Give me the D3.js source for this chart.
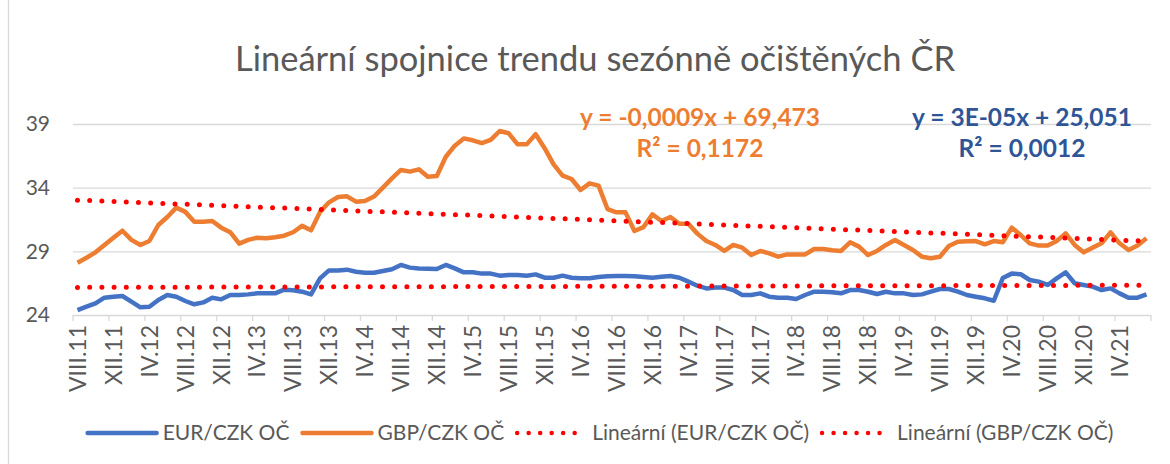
<!DOCTYPE html>
<html lang="cs">
<head>
<meta charset="UTF-8">
<script src="https://d3js.org/d3.v7.min.js"></script>
<style>
  body { margin: 0; background: #fff; }
  text { font-family: Lato, "Open Sans", sans-serif; fill: #595959; }
  .grid line { stroke: #d9d9d9; stroke-width: 1.3; }
  .eq { font-weight: bold; font-size: 24.5px; }
</style>
</head>
<body>
<script>
// ---- data (monthly, VIII.2011 - VII.2021) ----
const romans = ["I","II","III","IV","V","VI","VII","VIII","IX","X","XI","XII"];
const startYear = 2011, startMonth = 8, monthCount = 120;

const tickLabels = ["VIII.11","XII.11","IV.12","VIII.12","XII.12","IV.13","VIII.13","XII.13",
  "IV.14","VIII.14","XII.14","IV.15","VIII.15","XII.15","IV.16","VIII.16","XII.16","IV.17",
  "VIII.17","XII.17","IV.18","VIII.18","XII.18","IV.19","VIII.19","XII.19","IV.20","VIII.20",
  "XII.20","IV.21"];

const yTicks = [24, 29, 34, 39];

const eur = [24.39,24.65,24.92,25.36,25.44,25.49,25.05,24.6,24.65,25.18,
  25.57,25.44,25.1,24.84,24.99,25.36,25.23,25.57,25.57,25.62,
  25.7,25.7,25.7,25.99,25.94,25.83,25.62,26.88,27.5,27.5,
  27.56,27.4,27.32,27.32,27.46,27.59,27.93,27.72,27.66,27.64,
  27.61,27.93,27.66,27.35,27.35,27.25,27.25,27.09,27.14,27.14,
  27.09,27.19,26.93,26.93,27.09,26.93,26.88,26.88,26.98,27.04,
  27.06,27.06,27.04,26.98,26.93,27.01,27.06,26.93,26.62,26.3,
  26.09,26.15,26.15,25.96,25.57,25.57,25.7,25.44,25.36,25.36,
  25.26,25.57,25.83,25.83,25.78,25.7,25.96,25.96,25.83,25.65,
  25.83,25.7,25.7,25.57,25.62,25.83,26.04,26.04,25.83,25.57,
  25.44,25.31,25.12,26.9,27.25,27.2,26.75,26.62,26.36,26.88,
  27.35,26.49,26.36,26.23,25.96,26.09,25.7,25.36,25.36,25.62];

const gbp = [28.11,28.5,28.92,29.5,30.07,30.62,29.9,29.5,29.81,31.07,
  31.7,32.43,32.1,31.33,31.33,31.38,30.86,30.5,29.6,29.9,
  30.07,30.02,30.1,30.23,30.5,31.0,30.65,32.1,32.85,33.27,
  33.32,32.9,32.95,33.3,34.0,34.73,35.39,35.26,35.44,34.86,
  34.92,36.43,37.3,37.87,37.72,37.5,37.75,38.45,38.27,37.4,
  37.4,38.2,37.1,35.83,34.94,34.68,33.82,34.34,34.16,32.32,
  32.06,32.06,30.6,30.9,31.9,31.38,31.7,31.17,31.17,30.39,
  29.81,29.5,29.03,29.5,29.29,28.71,29.03,28.84,28.58,28.76,
  28.76,28.76,29.18,29.18,29.08,29.03,29.71,29.37,28.71,29.03,
  29.5,29.89,29.5,29.1,28.58,28.45,28.58,29.42,29.76,29.8,
  29.81,29.55,29.81,29.71,30.86,30.28,29.63,29.45,29.45,29.81,
  30.41,29.5,28.92,29.29,29.63,30.49,29.63,29.1,29.45,30.02];

const seriesNames = ["EUR/CZK OČ", "GBP/CZK OČ"];
const trendNames = ["Lineární (EUR/CZK OČ)", "Lineární (GBP/CZK OČ)"];
const equations = [["y = 3E-05x + 25,051", "R² = 0,0012"], ["y = -0,0009x + 69,473", "R² = 0,1172"]];

const categories = [];
for (let i = 0; i < monthCount; i++) {
  const m = (startMonth - 1 + i) % 12;
  const yr = startYear + Math.floor((startMonth - 1 + i) / 12);
  categories.push(romans[m] + "." + String(yr).slice(2));
}

// ---- layout ----
const W = 1170, H = 464;
const plotL = 73, plotR = 1151, plotT = 124, plotB = 315;
const blue = "#4472C4", orange = "#ED7D31", red = "#FF0000";

const svg = d3.select("body").append("svg").attr("width", W).attr("height", H);

// chart border (only left edge visible in the frame)
svg.append("rect").attr("x", 8.5).attr("y", -5).attr("width", 1200).attr("height", 500)
  .attr("fill", "none").attr("stroke", "#d9d9d9").attr("stroke-width", 1.3);

svg.append("text").attr("x", 595).attr("y", 71).attr("text-anchor", "middle")
  .style("font-size", "34.5px").text("Lineární spojnice trendu sezónně očištěných ČR");

const x = d3.scaleBand().domain(categories).range([plotL, plotR]).padding(0);
const y = d3.scaleLinear().domain([24, 39]).range([plotB, plotT]);
const cx = d => x(d) + x.bandwidth() / 2;

// y grid + labels
const ga = svg.append("g").attr("class", "grid").attr("transform", "translate(" + plotL + ",0)")
  .call(d3.axisLeft(y).tickValues(yTicks).tickSize(-(plotR - plotL)).tickPadding(23).tickFormat(d3.format("d")));
ga.select(".domain").remove();
ga.selectAll("text").style("font-size", "21px").attr("fill", "#595959");

// x ticks (between categories) and labels
const tickCats = categories.filter((c, i) => i % 4 === 0);
svg.append("g").selectAll("line").data(tickCats.concat([null])).join("line")
  .attr("x1", d => d === null ? plotR : x(d)).attr("x2", d => d === null ? plotR : x(d))
  .attr("y1", plotB).attr("y2", plotB + 6).attr("stroke", "#d9d9d9").attr("stroke-width", 1.3);

const xa = svg.append("g").attr("transform", "translate(0," + plotB + ")")
  .call(d3.axisBottom(x).tickValues(tickCats).tickSize(0).tickFormat((d, i) => tickLabels[i]));
xa.select(".domain").remove();
xa.selectAll("text").attr("transform", "rotate(-90)").attr("text-anchor", "end")
  .attr("x", -10).attr("y", 0).attr("dy", "0.36em").style("font-size", "23px").attr("fill", "#595959");

// linear trends (least squares on month index)
function fit(vals) {
  const n = vals.length, mx = (n - 1) / 2, my = d3.mean(vals);
  let sxy = 0, sxx = 0;
  vals.forEach((v, i) => { sxy += (i - mx) * (v - my); sxx += (i - mx) * (i - mx); });
  const b = sxy / sxx;
  return [my - b * mx, my + b * (n - 1 - mx)];
}

const line = d3.line().x((d, i) => cx(categories[i])).y(d => y(d));

[eur, gbp].forEach((vals, k) => {
  svg.append("path").datum(vals).attr("d", line).attr("fill", "none")
    .attr("stroke", k ? orange : blue).attr("stroke-width", 4.5).attr("stroke-linejoin", "round");
});

[eur, gbp].forEach(vals => {
  const t = fit(vals);
  svg.append("line")
    .attr("x1", cx(categories[0])).attr("y1", y(t[0]))
    .attr("x2", cx(categories[monthCount - 1])).attr("y2", y(t[1]))
    .attr("stroke", red).attr("stroke-width", 5).attr("stroke-linecap", "round")
    .attr("stroke-dasharray", "0 12.2");
});

// equations
[[1022, "#2F5597"], [700, orange]].forEach((p, k) => {
  equations[k].forEach((s, j) => {
    svg.append("text").attr("class", "eq").attr("x", p[0]).attr("y", 126 + j * 31)
      .attr("text-anchor", "middle").style("fill", p[1]).text(s);
  });
});

// legend
const items = [
  {name: seriesNames[0], color: blue, dotted: false},
  {name: seriesNames[1], color: orange, dotted: false},
  {name: trendNames[0], color: red, dotted: true},
  {name: trendNames[1], color: red, dotted: true}
];
const lg = svg.append("g");
let lx = 0;
items.forEach(it => {
  const g = lg.append("g").attr("transform", "translate(" + lx + ",0)");
  g.append("line").attr("x1", 3).attr("x2", 72).attr("y1", 0).attr("y2", 0)
    .attr("stroke", it.color).attr("stroke-width", 4.5).attr("stroke-linecap", "round")
    .attr("stroke-dasharray", it.dotted ? "0 11.5" : null);
  const t = g.append("text").attr("x", 78).attr("y", 0).attr("dy", "0.35em").style("font-size", "21px").text(it.name);
  lx += 78 + t.node().getComputedTextLength() + 10;
});
lg.attr("transform", "translate(" + (599 - (lx - 10) / 2) + ",433)");
</script>
</body>
</html>
